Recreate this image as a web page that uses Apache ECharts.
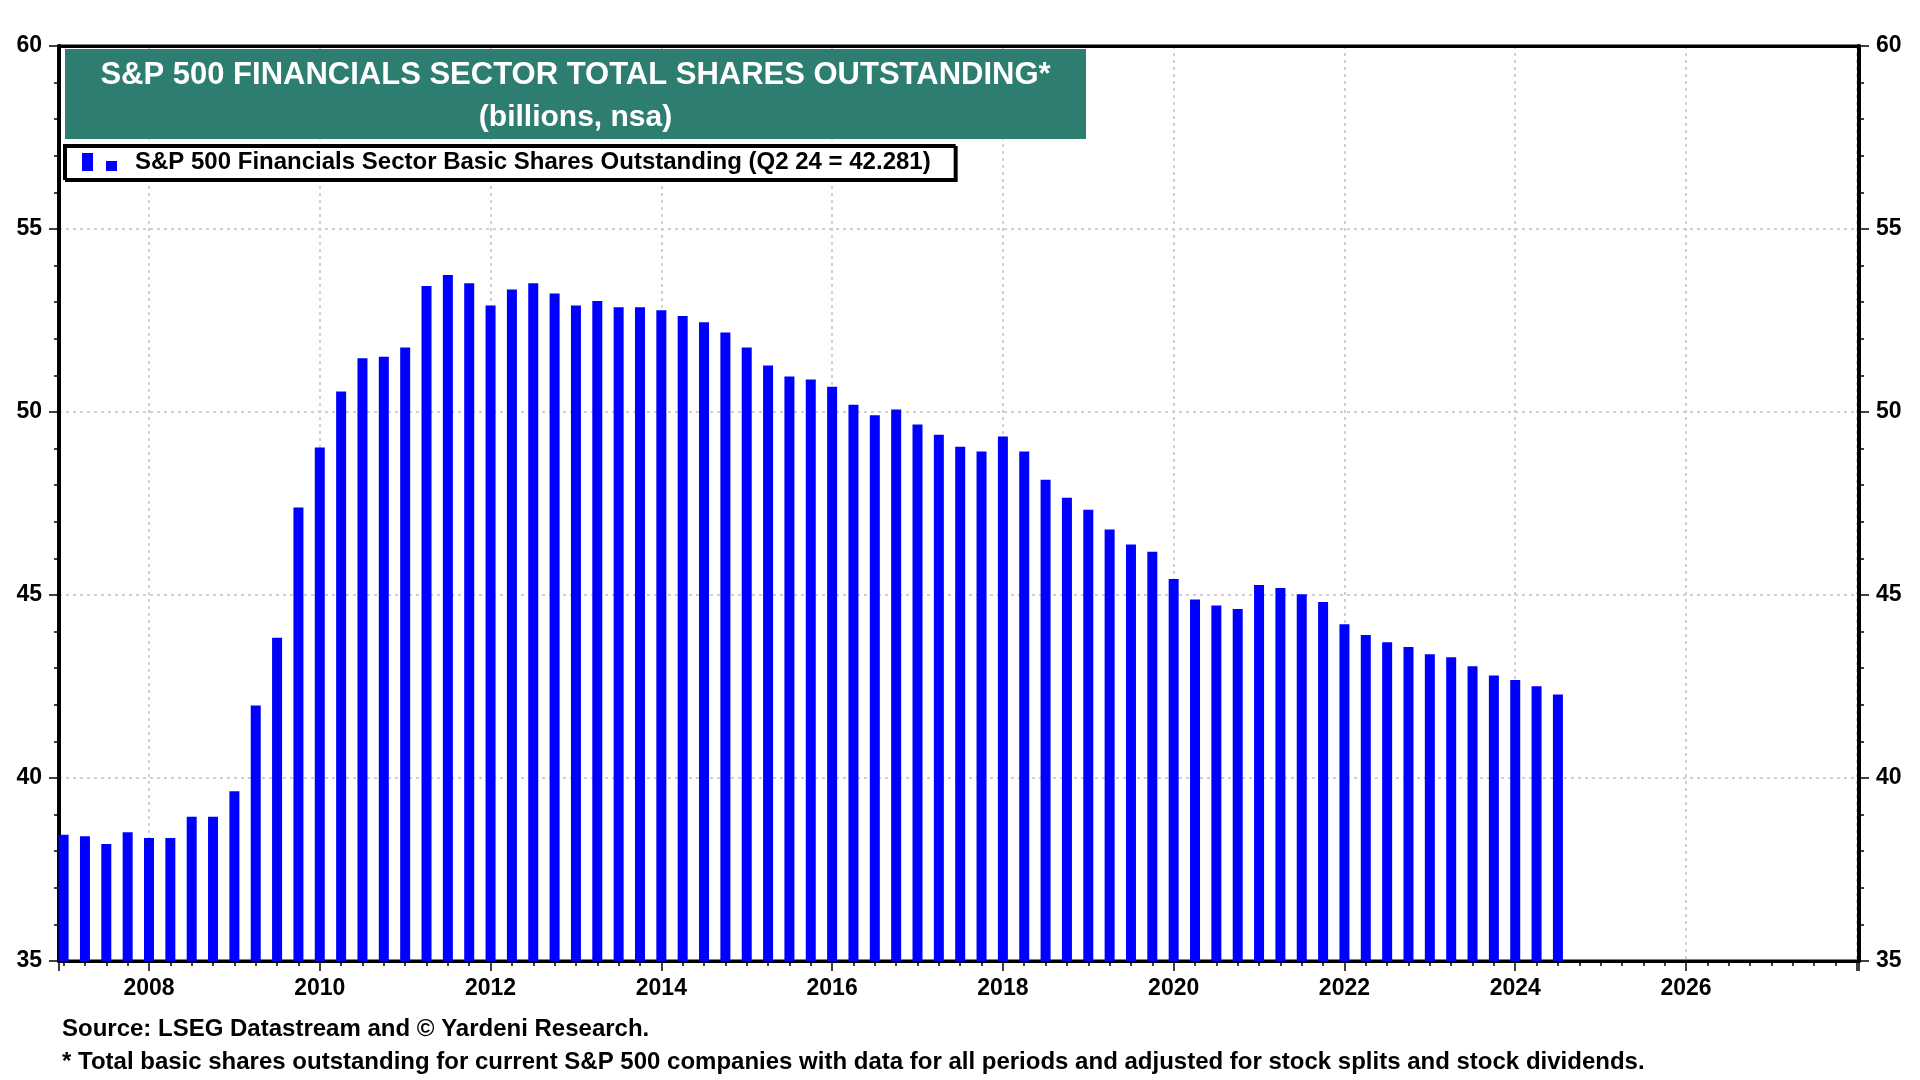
<!DOCTYPE html>
<html>
<head>
<meta charset="utf-8">
<script src="https://cdn.jsdelivr.net/npm/echarts@6/dist/echarts.min.js"></script>
<style>html,body{margin:0;padding:0;background:#fff}#c{width:1920px;height:1080px}</style>
</head>
<body>
<div id="c"></div>
<script>
const quarters = ['Q4 06',
 'Q1 07','Q2 07','Q3 07','Q4 07','Q1 08','Q2 08','Q3 08','Q4 08',
 'Q1 09','Q2 09','Q3 09','Q4 09','Q1 10','Q2 10','Q3 10','Q4 10',
 'Q1 11','Q2 11','Q3 11','Q4 11','Q1 12','Q2 12','Q3 12','Q4 12',
 'Q1 13','Q2 13','Q3 13','Q4 13','Q1 14','Q2 14','Q3 14','Q4 14',
 'Q1 15','Q2 15','Q3 15','Q4 15','Q1 16','Q2 16','Q3 16','Q4 16',
 'Q1 17','Q2 17','Q3 17','Q4 17','Q1 18','Q2 18','Q3 18','Q4 18',
 'Q1 19','Q2 19','Q3 19','Q4 19','Q1 20','Q2 20','Q3 20','Q4 20',
 'Q1 21','Q2 21','Q3 21','Q4 21','Q1 22','Q2 22','Q3 22','Q4 22',
 'Q1 23','Q2 23','Q3 23','Q4 23','Q1 24','Q2 24'];
const sharesOutstanding = [38.45,
 38.41,38.20,38.52,38.36, 38.36,38.94,38.94,39.64,
 41.98,43.83,47.39,49.03, 50.56,51.47,51.51,51.76,
 53.44,53.74,53.52,52.91, 53.35,53.52,53.24,52.91,
 53.03,52.86,52.86,52.78, 52.62,52.45,52.17,51.76,
 51.27,50.97,50.89,50.69, 50.20,49.91,50.07,49.66,
 49.38,49.05,48.92,49.33, 48.92,48.15,47.66,47.33,
 46.79,46.38,46.18,45.44, 44.88,44.71,44.62,45.27,
 45.19,45.02,44.81,44.20, 43.91,43.71,43.58,43.38,
 43.30,43.05,42.80,42.68, 42.51,42.281];
const yearLabels = ['2008','2010','2012','2014','2016','2018','2020','2022','2024','2026'];
const yTicks = [35,40,45,50,55,60];

const seriesName = 'S&P 500 Financials Sector Basic Shares Outstanding (Q2 24 = 42.281)';
const FONT = '"Liberation Sans", Arial, sans-serif';

// quarter label -> decimal year at quarter end
function qToX(q){ const n = +q[1]; const y = 2000 + +q.slice(3); return y + n/4; }
const barData = quarters.map((q,i)=>[qToX(q), sharesOutstanding[i]]);

const chart = echarts.init(document.getElementById('c'));
const gridLine = {show:true, showMinLine:false, showMaxLine:false, lineStyle:{color:'#cfcfcf', width:2, type:[3,4]}};
const xMin = 2006.946, xMax = 2028.026;
const yAxisCommon = {
  type:'value', min: yTicks[0], max: yTicks[yTicks.length-1], interval:5,
  axisLine:{show:true, onZero:false, lineStyle:{color:'#000', width:4}},
  axisTick:{show:true, length:10, lineStyle:{color:'#000', width:1.5}},
  minorTick:{show:true, splitNumber:5, length:5, lineStyle:{color:'#000', width:1.5}},
  axisLabel:{color:'#000', fontSize:23, fontWeight:'bold', fontFamily:FONT, margin:17},
};
chart.setOption({
  animation:false,
  backgroundColor:'#fff',
  grid:{left:59, right:61, top:46, bottom:119, show:true, borderColor:'#000', borderWidth:3, backgroundColor:'transparent'},
  graphic:[{type:'rect', z:5, shape:{x:65, y:49, width:1021, height:90}, style:{fill:'#2E7D71'}}],
  title:[
    {text:'S&P 500 FINANCIALS SECTOR TOTAL SHARES OUTSTANDING*', subtext:'(billions, nsa)',
     left:575.5, top:57, textAlign:'center', padding:0, itemGap:7, z:6,
     textStyle:{color:'#fff', fontSize:31, fontWeight:'bold', fontFamily:FONT, lineHeight:36},
     subtextStyle:{color:'#fff', fontSize:30, fontWeight:'bold', fontFamily:FONT, lineHeight:36}},
    {text:'Source: LSEG Datastream and © Yardeni Research.', left:62, top:1016, padding:0,
     textStyle:{color:'#000', fontSize:24, fontWeight:'bold', fontFamily:FONT, lineHeight:26}},
    {text:'* Total basic shares outstanding for current S&P 500 companies with data for all periods and adjusted for stock splits and stock dividends.',
     left:62, top:1049, padding:0,
     textStyle:{color:'#000', fontSize:24, fontWeight:'bold', fontFamily:FONT, lineHeight:26}}
  ],
  legend:{
    left:64, top:145, padding:[5,24,5,18],
    backgroundColor:'#fff', borderColor:'#000', borderWidth:2,
    shadowColor:'#000', shadowOffsetX:2, shadowOffsetY:2, shadowBlur:0,
    icon:'path://M0,0h11v18h-11z M24,8h11v10h-11z', itemWidth:35, itemHeight:18,
    selectedMode:false,
    data:[{name:seriesName, itemStyle:{color:'#0000ff'}}],
    textStyle:{color:'#000', fontSize:24, fontWeight:'bold', fontFamily:FONT, lineHeight:24, padding:[0,0,0,13]}
  },
  xAxis:[{
    type:'value', position:'bottom', min:xMin, max:xMax, splitNumber:10, minInterval:2, maxInterval:2,
    axisLine:{show:true, onZero:false, lineStyle:{color:'#000', width:3}},
    axisTick:{show:true, length:10, lineStyle:{color:'#000', width:1.5}},
    minorTick:{show:true, splitNumber:8, length:5, lineStyle:{color:'#000', width:1.5}},
    splitLine:gridLine,
    axisLabel:{color:'#000', fontSize:23, fontWeight:'bold', fontFamily:FONT, margin:16,
      showMinLabel:false, showMaxLabel:false,
      formatter:v=>{const s=String(Math.round(v)); return (Math.abs(v-Math.round(v))<1e-6 && yearLabels.includes(s))?s:'';}}
  },{
    type:'value', position:'top', min:xMin, max:xMax, z:3,
    axisLine:{show:true, onZero:false, lineStyle:{color:'#000', width:3}},
    axisTick:{show:false}, axisLabel:{show:false}, splitLine:{show:false}
  }],
  yAxis:[
    Object.assign({}, yAxisCommon, {position:'left', splitLine:gridLine}),
    Object.assign({}, yAxisCommon, {position:'right', z:3, splitLine:{show:false}})
  ],
  series:[{
    name:seriesName, type:'bar', xAxisIndex:0, yAxisIndex:0, data:barData, barWidth:10,
    itemStyle:{color:'#0000ff'}, z:2
  }]
});
</script>
</body>
</html>
